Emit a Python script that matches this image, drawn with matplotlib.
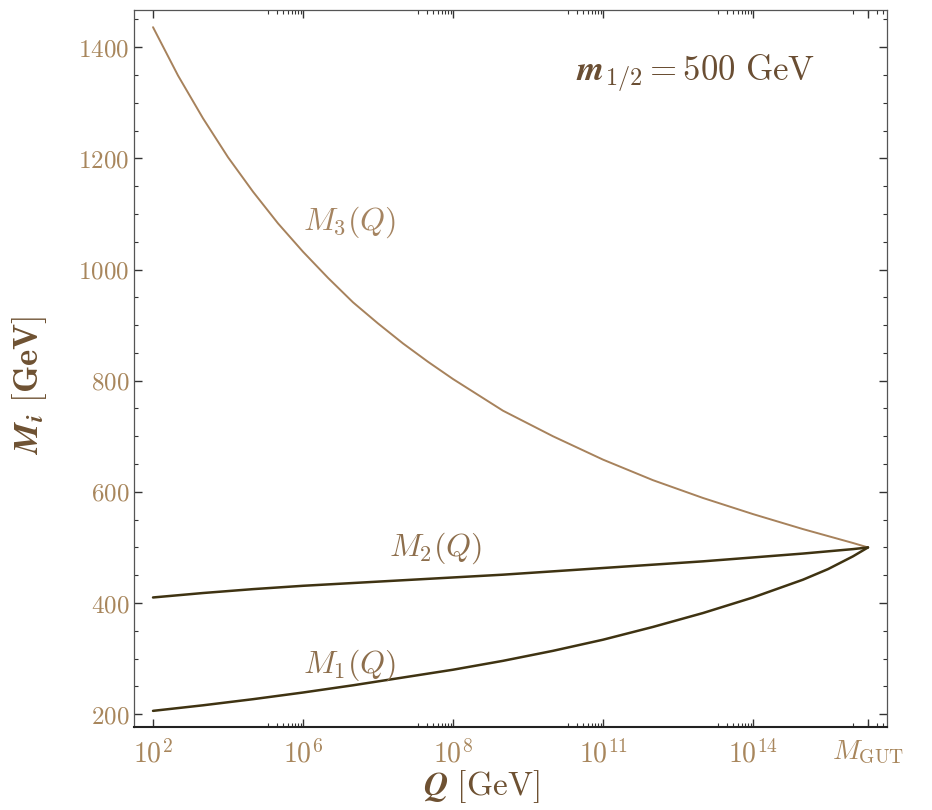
import numpy as np
import matplotlib
matplotlib.use("Agg")
import matplotlib.pyplot as plt
from matplotlib.ticker import FixedLocator
from matplotlib.mathtext import MathTextParser

plt.rcParams['mathtext.fontset'] = 'cm'
plt.rcParams['font.family'] = ['DejaVu Serif']

# ---- data (log10 of Q in GeV, gaugino masses in GeV) ----
logQ_M3 = [2.0, 2.5, 3.0, 3.5, 4.0, 4.5, 5.0, 5.5, 6.0, 6.5, 7.0, 7.5, 8.0, 9.0, 10.0, 11.0,
           12.0, 13.0, 14.0, 15.0, 16.0, 16.3]
M3_vals = [1436, 1349, 1272, 1202, 1140, 1083, 1032, 985, 941, 903, 867, 834, 803, 746, 700,
           658, 621, 589, 560, 533, 508, 500]

logQ_M2 = [2.0, 3.0, 4.0, 5.0, 6.0, 7.0, 8.0, 9.0, 10.0, 11.0, 12.0, 13.0, 14.0, 15.0, 16.0, 16.3]
M2_vals = [410, 418, 425, 431, 436, 441, 446, 451, 457, 463, 469, 475, 482, 489, 497, 500]

logQ_M1 = [2.0, 3.0, 4.0, 5.0, 6.0, 7.0, 8.0, 9.0, 10.0, 11.0, 12.0, 13.0, 14.0, 15.0, 15.5,
           16.0, 16.3]
M1_vals = [206, 216, 227, 239, 252, 266, 280, 296, 314, 334, 357, 382, 410, 442, 461, 484, 500]

x_tick_pos = [2, 5, 8, 11, 14, 16.3]
x_tick_labels = [r'$10^{2}$', r'$10^{6}$', r'$10^{8}$', r'$10^{11}$', r'$10^{14}$', r'$M_{\mathrm{GUT}}$']
y_tick_pos = [200, 400, 600, 800, 1000, 1200, 1400]

tick_col = '#a8865c'
label_col = '#6e5132'
line_dark = '#3f3312'
line_m3 = '#a7825c'


def ok(s):
    try:
        MathTextParser('agg').parse(s, 72, matplotlib.font_manager.FontProperties())
        return True
    except Exception:
        return False


if ok(r'$\boldsymbol{m}$'):
    param_txt = r'$\boldsymbol{m}_{\mathbf{1/2}} \mathbf{=500}\ \mathrm{GeV}$'
    ylab = r'$\boldsymbol{M}_{\boldsymbol{i}}\ \mathbf{[GeV]}$'
    xlab = r'$\boldsymbol{Q}\ [\mathrm{GeV}]$'
else:
    param_txt = r'$m_{\mathbf{1/2}} \mathbf{=500}\ \mathrm{GeV}$'
    ylab = r'$M_i\ \mathbf{[GeV]}$'
    xlab = r'$Q\ [\mathrm{GeV}]$'

fig = plt.figure(figsize=(9.32, 8.10), dpi=100)
ax = fig.add_axes([0.1438, 0.1025, 0.9517 - 0.1438, 0.9877 - 0.1025])

ax.plot(logQ_M3, M3_vals, color=line_m3, lw=1.4, solid_capstyle='round')
ax.plot(logQ_M2, M2_vals, color=line_dark, lw=1.8, solid_capstyle='round')
ax.plot(logQ_M1, M1_vals, color=line_dark, lw=1.8, solid_capstyle='round')

ax.set_xlim(1.62, 16.68)
ax.set_ylim(177, 1467)

ax.xaxis.set_major_locator(FixedLocator(x_tick_pos))
ax.set_xticklabels(x_tick_labels)
minor_x = []
for n in [5, 8, 11, 14]:
    minor_x += [n - 1 + np.log10(k) for k in range(2, 10)]
minor_x += [16 + np.log10(k) for k in range(1, 5)]
ax.xaxis.set_minor_locator(FixedLocator(minor_x))

ax.yaxis.set_major_locator(FixedLocator(y_tick_pos))
ax.set_yticklabels([rf'${v}$' for v in y_tick_pos])
ax.yaxis.set_minor_locator(FixedLocator(list(range(200, 1451, 50))))

ax.tick_params(which='both', direction='in', top=True, right=True, colors='#333333',
               labelcolor=tick_col)
ax.tick_params(axis='y', labelsize=18)
ax.tick_params(axis='x', labelsize=20)
ax.tick_params(which='major', length=6, width=1.0)
ax.tick_params(which='minor', length=3, width=0.8)
ax.tick_params(axis='x', which='major', pad=9)

for s in ['left', 'right', 'top']:
    ax.spines[s].set_color('#555555')
    ax.spines[s].set_linewidth(0.9)
ax.spines['bottom'].set_color('#222222')
ax.spines['bottom'].set_linewidth(1.5)

ax.set_xlabel(xlab, fontsize=24, color=label_col)
ax.set_ylabel(ylab, fontsize=25, color=label_col)
ax.xaxis.set_label_coords((481 - 134) / 753, -0.058)
ax.yaxis.set_label_coords(-0.113, (727 - 385) / 717)

ax.text(5.94, 1085, r'$M_3(Q)$', fontsize=23, color='#a58461', ha='center', va='center')
ax.text(7.66, 498, r'$M_2(Q)$', fontsize=23, color='#8d6e4c', ha='center', va='center')
ax.text(5.94, 288, r'$M_1(Q)$', fontsize=23, color='#8d6e4c', ha='center', va='center')
ax.text(12.86, 1352, param_txt, fontsize=25, color='#6a4e33', ha='center', va='center')

fig.savefig('out.png', dpi=100, facecolor='white')
